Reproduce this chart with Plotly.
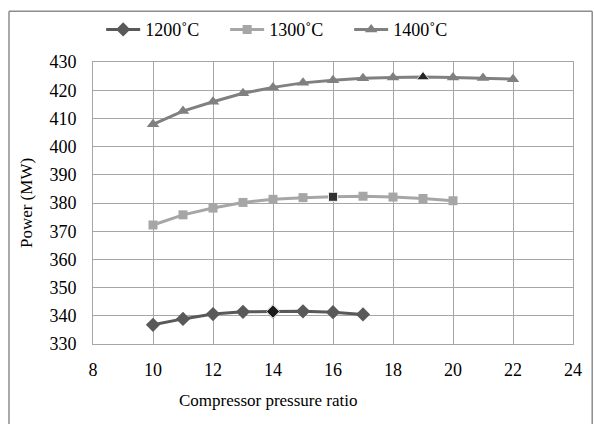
import plotly.graph_objects as go

x1200 = [10, 11, 12, 13, 14, 15, 16, 17]
p1200 = [336.8, 338.9, 340.6, 341.4, 341.5, 341.6, 341.3, 340.5]
x1300 = [10, 11, 12, 13, 14, 15, 16, 17, 18, 19, 20]
p1300 = [372.2, 375.8, 378.2, 380.2, 381.3, 381.9, 382.2, 382.4, 382.1, 381.6, 380.8]
x1400 = [10, 11, 12, 13, 14, 15, 16, 17, 18, 19, 20, 21, 22]
p1400 = [407.9, 412.6, 415.9, 418.9, 421.0, 422.6, 423.5, 424.2, 424.5, 424.7, 424.5, 424.3, 423.9]
opt_x = [14, 16, 19]
opt_p = [341.5, 382.2, 424.7]
opt_sym = ["diamond", "square", "triangle-up"]

font = "Liberation Serif, Times New Roman, serif"
fig = go.Figure()
fig.add_trace(go.Scatter(x=x1200, y=p1200, name="1200˚C", mode="lines+markers",
                         line=dict(color="#595959", width=3),
                         marker=dict(symbol="diamond", size=11, color="#595959")))
fig.add_trace(go.Scatter(x=x1300, y=p1300, name="1300˚C", mode="lines+markers",
                         line=dict(color="#A6A6A6", width=3),
                         marker=dict(symbol="square", size=9, color="#A6A6A6")))
fig.add_trace(go.Scatter(x=x1400, y=p1400, name="1400˚C", mode="lines+markers",
                         line=dict(color="#808080", width=3),
                         marker=dict(symbol="triangle-up", size=11, color="#808080")))
fig.add_trace(go.Scatter(x=opt_x, y=opt_p, mode="markers", showlegend=False,
                         marker=dict(symbol=opt_sym, size=[10, 9, 11], color="black")))

# chart-area frame
for x0, y0, x1, y1 in [(-0.175, 1.18, -0.175, -0.4), (-0.175, 1.18, 1.04, 1.18), (1.04, 1.18, 1.04, -0.4)]:
    fig.add_shape(type="line", xref="paper", yref="paper", x0=x0, y0=y0, x1=x1, y1=y1,
                  line=dict(color="#8c8c8c", width=1.5))

fig.add_annotation(text="Compressor pressure ratio", xref="paper", yref="paper",
                   x=0.365, y=-0.199, xanchor="center", yanchor="middle",
                   showarrow=False, font=dict(size=17))

fig.update_layout(
    width=594, height=424,
    margin=dict(l=93, r=21, t=62, b=80, autoexpand=False),
    paper_bgcolor="white", plot_bgcolor="white",
    font=dict(family=font, size=18, color="black"),
    legend=dict(orientation="h", x=0.017, xanchor="left", y=0.93, yref="container", yanchor="middle",
                bgcolor="rgba(0,0,0,0)",
                font=dict(size=18), itemwidth=34, entrywidth=75, traceorder="normal"),
    xaxis=dict(range=[8, 24], dtick=2, showgrid=True, gridcolor="#a6a6a6", gridwidth=1,
               showline=True, linecolor="#a6a6a6", mirror=True, zeroline=False, automargin=False,
               ticks="", ticklabelstandoff=9),
    yaxis=dict(range=[330, 430], dtick=10, showgrid=True, gridcolor="#a6a6a6", gridwidth=1,
               showline=True, linecolor="#a6a6a6", mirror=True, zeroline=False, automargin=False,
               ticks="", ticklabelstandoff=12,
               title=dict(text="Power (MW)", font=dict(size=17), standoff=12)),
)
fig.write_html("out.html", config={"displayModeBar": False},
               post_script="document.body.style.margin='0';document.body.style.overflow='hidden';")
